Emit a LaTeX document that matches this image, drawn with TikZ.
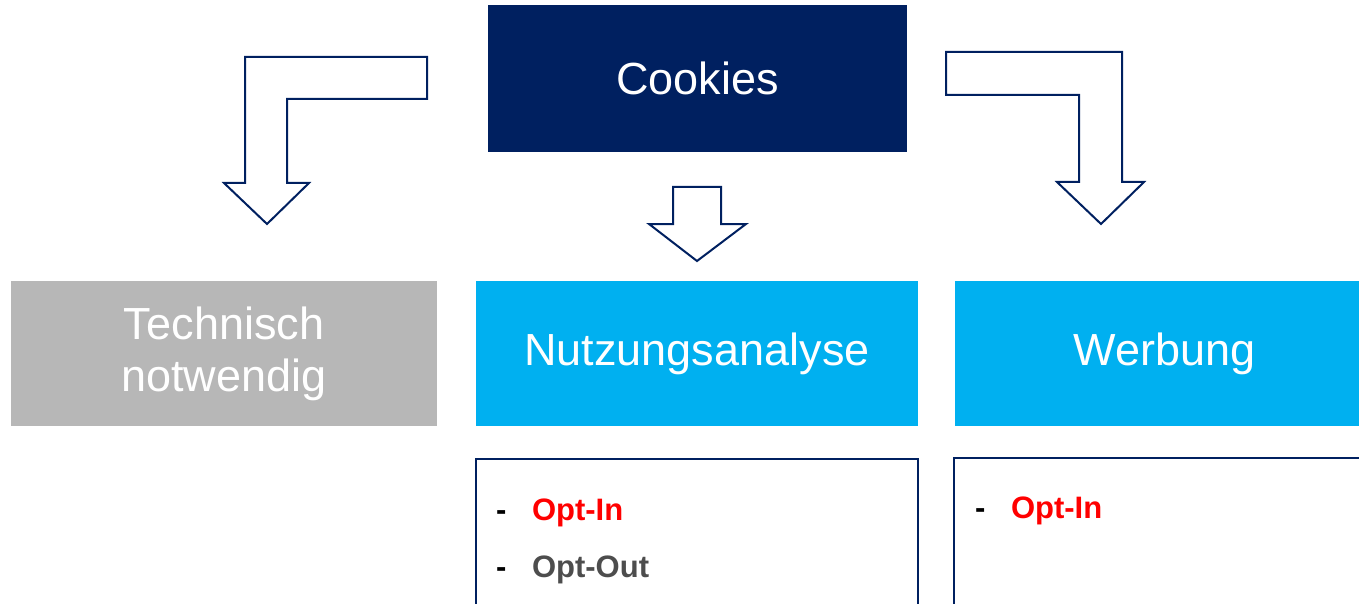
\documentclass[tikz,border=0pt]{standalone}
\usepackage{fontspec}
\setmainfont{Liberation Sans}
\usetikzlibrary{positioning}
\definecolor{navy}{RGB}{0,32,96}
\definecolor{cyanbox}{RGB}{0,176,240}
\definecolor{greybox}{RGB}{183,183,183}
\definecolor{optred}{RGB}{255,0,0}
\definecolor{optgrey}{RGB}{77,77,77}

\begin{document}
\begin{tikzpicture}[x=1pt,y=-1pt,
every node/.style={inner sep=0pt,outer sep=0pt},
box/.style={minimum height=145pt,text=white,align=center,font=\fontsize{45}{52}\selectfont},
listbox/.style={draw=navy,line width=1.5pt,minimum height=190pt,anchor=north west},
item/.style={anchor=base west,font=\fontsize{31}{36}\selectfont\bfseries},
bentarrow/.style={draw=navy,line width=2pt,fill=white}]
\clip (0,0) rectangle (1359,604);
% top and middle row
\node[box,fill=navy,minimum width=419pt,minimum height=147pt] (Cookies) at (697.5,78.5) {Cookies};
\node[box,fill=greybox,minimum width=426pt] (Tech) at (224,353.5) {Technisch\\notwendig};
\node[box,fill=cyanbox,minimum width=442pt] (Nutz) at (697,353.5) {Nutzungsanalyse};
\node[box,fill=cyanbox,minimum width=419pt] (Werb) at (1164.5,353.5) {Werbung};
% lists
\node[listbox,minimum width=442pt] (NutzList) at (476,459) {};
\node[listbox,minimum width=420pt] (WerbList) at (954,458) {};
\node[item] (N1d) at (496,520) {-};
\node[item,text=optred] (N1) at (532,520) {Opt-In};
\node[item] (N2d) at (496,577) {-};
\node[item,text=optgrey] (N2) at (532,577) {Opt-Out};
\node[item] (W1d) at (975,518) {-};
\node[item,text=optred] (W1) at (1011,518) {Opt-In};
% block arrows
\draw[bentarrow] (245,57)--(427,57)--(427,99)--(287,99)--(287,183)--(309,183)
  --(267,224)--(224,183)--(245,183)--cycle;
\draw[bentarrow] (673,187)--(721,187)--(721,224)--(746,224)--(697,261)
  --(649,224)--(673,224)--cycle;
\draw[bentarrow] (946,52)--(1122,52)--(1122,182)--(1144,182)--(1101,224)
  --(1057,182)--(1079,182)--(1079,95)--(946,95)--cycle;
\end{tikzpicture}
\end{document}
